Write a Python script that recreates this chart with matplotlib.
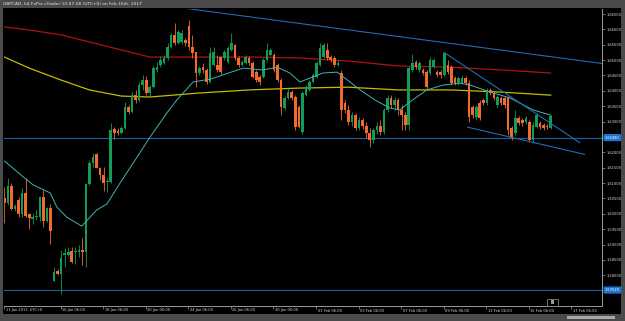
import matplotlib
matplotlib.use("Agg")
import matplotlib.pyplot as plt
from matplotlib.patches import Rectangle
from matplotlib.transforms import blended_transform_factory

W, H, DPI = 625, 321, 100

title = "GBPCAD, h4 FxPro cTrader 10:07:58 (UTC+0) on Feb 16th, 2017"

# ---- OHLC (h4 candles) ----
opens = [1.6051, 1.6035, 1.6091, 1.6016, 1.6045, 1.5999, 1.6068, 1.5999, 1.5983, 1.5989,
         1.5989, 1.6055, 1.5976, 1.6019, 1.5782, 1.5814, 1.5805, 1.5866, 1.5866, 1.5879,
         1.5876, 1.5876, 1.5882, 1.5876, 1.6097, 1.6165, 1.6195, 1.6150, 1.6126, 1.6103,
         1.6103, 1.6276, 1.6269, 1.6263, 1.6279, 1.6347, 1.6331, 1.6386, 1.6370, 1.6419,
         1.6435, 1.6393, 1.6412, 1.6468, 1.6484, 1.6490, 1.6507, 1.6543, 1.6582, 1.6556,
         1.6559, 1.6565, 1.6611, 1.6543, 1.6526, 1.6458, 1.6477, 1.6468, 1.6429, 1.6484,
         1.6484, 1.6510, 1.6507, 1.6494, 1.6533, 1.6549, 1.6507, 1.6484, 1.6490, 1.6507,
         1.6490, 1.6461, 1.6445, 1.6445, 1.6500, 1.6516, 1.6516, 1.6484, 1.6435, 1.6344,
         1.6377, 1.6396, 1.6380, 1.6347, 1.6266, 1.6386, 1.6403, 1.6429, 1.6445, 1.6484,
         1.6510, 1.6533, 1.6510, 1.6507, 1.6484, 1.6458, 1.6360, 1.6338, 1.6299, 1.6321,
         1.6279, 1.6305, 1.6286, 1.6263, 1.6240, 1.6273, 1.6286, 1.6266, 1.6338, 1.6377,
         1.6354, 1.6370, 1.6338, 1.6321, 1.6289, 1.6468, 1.6494, 1.6468, 1.6468, 1.6461,
         1.6458, 1.6477, 1.6461, 1.6461, 1.6452, 1.6484, 1.6477, 1.6442, 1.6425, 1.6425,
         1.6442, 1.6425, 1.6347, 1.6315, 1.6360, 1.6370, 1.6360, 1.6403, 1.6393, 1.6354,
         1.6377, 1.6377, 1.6377, 1.6279, 1.6263, 1.6312, 1.6305, 1.6299, 1.6299, 1.6240,
         1.6282, 1.6295, 1.6289, 1.6286, 1.6279]
highs = [1.6087, 1.6116, 1.6100, 1.6032, 1.6055, 1.6084, 1.6116, 1.6003, 1.6003, 1.6012,
         1.6058, 1.6077, 1.6022, 1.6032, 1.5827, 1.5821, 1.5882, 1.5889, 1.5892, 1.5892,
         1.5892, 1.5898, 1.5921, 1.6099, 1.6175, 1.6198, 1.6198, 1.6153, 1.6153, 1.6116,
         1.6295, 1.6282, 1.6279, 1.6286, 1.6364, 1.6354, 1.6396, 1.6403, 1.6429, 1.6452,
         1.6448, 1.6419, 1.6481, 1.6494, 1.6513, 1.6516, 1.6556, 1.6588, 1.6621, 1.6598,
         1.6598, 1.6572, 1.6630, 1.6582, 1.6526, 1.6481, 1.6490, 1.6474, 1.6543, 1.6543,
         1.6516, 1.6513, 1.6533, 1.6546, 1.6588, 1.6552, 1.6513, 1.6500, 1.6516, 1.6513,
         1.6497, 1.6468, 1.6452, 1.6507, 1.6556, 1.6539, 1.6523, 1.6490, 1.6442, 1.6383,
         1.6409, 1.6403, 1.6386, 1.6354, 1.6399, 1.6419, 1.6435, 1.6458, 1.6497, 1.6556,
         1.6556, 1.6556, 1.6516, 1.6513, 1.6500, 1.6468, 1.6370, 1.6354, 1.6331, 1.6328,
         1.6315, 1.6312, 1.6299, 1.6279, 1.6279, 1.6299, 1.6305, 1.6344, 1.6386, 1.6386,
         1.6380, 1.6377, 1.6354, 1.6331, 1.6481, 1.6520, 1.6500, 1.6497, 1.6474, 1.6468,
         1.6510, 1.6507, 1.6468, 1.6468, 1.6526, 1.6500, 1.6484, 1.6448, 1.6448, 1.6452,
         1.6448, 1.6435, 1.6354, 1.6354, 1.6370, 1.6377, 1.6409, 1.6409, 1.6399, 1.6386,
         1.6383, 1.6383, 1.6383, 1.6286, 1.6338, 1.6318, 1.6312, 1.6318, 1.6305, 1.6299,
         1.6328, 1.6302, 1.6295, 1.6292, 1.6321]
lows = [1.5970, 1.6029, 1.6012, 1.6009, 1.5989, 1.5989, 1.5989, 1.5951, 1.5967, 1.5980,
        1.5976, 1.5957, 1.5973, 1.5902, 1.5780, 1.5801, 1.5739, 1.5827, 1.5863, 1.5840,
        1.5837, 1.5860, 1.5834, 1.5827, 1.6094, 1.6153, 1.6148, 1.6110, 1.6074, 1.6071,
        1.6100, 1.6243, 1.6256, 1.6260, 1.6276, 1.6325, 1.6328, 1.6360, 1.6364, 1.6403,
        1.6386, 1.6383, 1.6409, 1.6461, 1.6477, 1.6487, 1.6500, 1.6539, 1.6549, 1.6552,
        1.6552, 1.6546, 1.6533, 1.6507, 1.6412, 1.6452, 1.6458, 1.6422, 1.6425, 1.6481,
        1.6461, 1.6455, 1.6500, 1.6490, 1.6530, 1.6500, 1.6477, 1.6481, 1.6487, 1.6484,
        1.6442, 1.6429, 1.6419, 1.6442, 1.6497, 1.6513, 1.6461, 1.6429, 1.6321, 1.6338,
        1.6373, 1.6370, 1.6273, 1.6279, 1.6260, 1.6383, 1.6399, 1.6425, 1.6442, 1.6481,
        1.6507, 1.6500, 1.6494, 1.6477, 1.6481, 1.6305, 1.6328, 1.6289, 1.6286, 1.6273,
        1.6273, 1.6276, 1.6247, 1.6217, 1.6230, 1.6260, 1.6256, 1.6260, 1.6331, 1.6344,
        1.6338, 1.6321, 1.6273, 1.6273, 1.6273, 1.6461, 1.6471, 1.6461, 1.6452, 1.6406,
        1.6452, 1.6474, 1.6445, 1.6442, 1.6448, 1.6455, 1.6419, 1.6419, 1.6419, 1.6422,
        1.6419, 1.6299, 1.6312, 1.6308, 1.6305, 1.6354, 1.6354, 1.6386, 1.6370, 1.6347,
        1.6354, 1.6344, 1.6256, 1.6240, 1.6256, 1.6289, 1.6286, 1.6292, 1.6234, 1.6230,
        1.6279, 1.6276, 1.6273, 1.6276, 1.6276]
closes = [1.6035, 1.6091, 1.6016, 1.6025, 1.5999, 1.6068, 1.5993, 1.5986, 1.5989, 1.5993,
          1.6055, 1.5976, 1.6019, 1.5944, 1.5811, 1.5805, 1.5857, 1.5873, 1.5876, 1.5843,
          1.5879, 1.5882, 1.5876, 1.6097, 1.6165, 1.6185, 1.6150, 1.6126, 1.6100, 1.6107,
          1.6273, 1.6263, 1.6263, 1.6279, 1.6347, 1.6331, 1.6386, 1.6370, 1.6419, 1.6435,
          1.6393, 1.6412, 1.6474, 1.6477, 1.6500, 1.6507, 1.6543, 1.6582, 1.6556, 1.6591,
          1.6588, 1.6556, 1.6543, 1.6523, 1.6458, 1.6474, 1.6468, 1.6429, 1.6523, 1.6526,
          1.6468, 1.6461, 1.6526, 1.6539, 1.6556, 1.6507, 1.6484, 1.6494, 1.6510, 1.6490,
          1.6445, 1.6435, 1.6429, 1.6500, 1.6533, 1.6533, 1.6468, 1.6435, 1.6347, 1.6377,
          1.6396, 1.6377, 1.6282, 1.6282, 1.6393, 1.6412, 1.6429, 1.6452, 1.6490, 1.6539,
          1.6549, 1.6507, 1.6500, 1.6484, 1.6490, 1.6338, 1.6338, 1.6299, 1.6321, 1.6279,
          1.6305, 1.6286, 1.6263, 1.6240, 1.6273, 1.6286, 1.6266, 1.6338, 1.6377, 1.6354,
          1.6370, 1.6338, 1.6321, 1.6289, 1.6474, 1.6490, 1.6477, 1.6490, 1.6458, 1.6412,
          1.6500, 1.6500, 1.6452, 1.6452, 1.6523, 1.6461, 1.6425, 1.6425, 1.6442, 1.6442,
          1.6425, 1.6315, 1.6321, 1.6347, 1.6312, 1.6360, 1.6403, 1.6393, 1.6377, 1.6380,
          1.6360, 1.6354, 1.6273, 1.6247, 1.6312, 1.6295, 1.6295, 1.6312, 1.6240, 1.6289,
          1.6321, 1.6282, 1.6279, 1.6282, 1.6318]

# ---- moving averages (candle index, price) ----
ma_slow_idx = [0, 7, 16, 24, 33, 41, 55, 69, 83, 97, 111, 126, 140, 154]
ma_slow_val = [1.6608, 1.6598, 1.6582, 1.6559, 1.6533, 1.6510, 1.6510, 1.6510, 1.6507,
               1.6497, 1.6481, 1.6477, 1.6468, 1.6458]
ma_mid_idx = [0, 7, 16, 24, 33, 41, 55, 69, 83, 97, 111, 126, 140, 154]
ma_mid_val = [1.6510, 1.6474, 1.6435, 1.6403, 1.6383, 1.6380, 1.6393, 1.6403, 1.6409,
              1.6412, 1.6403, 1.6403, 1.6396, 1.6386]
ma_fast_idx = [0, 4.4, 8.1, 12.9, 14.8, 17.6, 21.8, 26.0, 28.9, 32.6, 36.3, 41.1, 45.8,
               48.6, 53.2, 58.0, 67.3, 72.9, 76.9, 80.5, 83.3, 86.2, 89.8, 93.8, 97.4,
               100.3, 104.5, 108.7, 111.5, 114.3, 119.1, 123.7, 128.4, 131.3, 136.9,
               142.5, 149.0, 154]
ma_fast_val = [1.6172, 1.6129, 1.6094, 1.6068, 1.6022, 1.5989, 1.5960, 1.6012, 1.6032,
               1.6100, 1.6165, 1.6250, 1.6328, 1.6370, 1.6429, 1.6438, 1.6474, 1.6468,
               1.6477, 1.6458, 1.6429, 1.6442, 1.6458, 1.6461, 1.6429, 1.6403, 1.6370,
               1.6344, 1.6338, 1.6364, 1.6403, 1.6419, 1.6425, 1.6419, 1.6396, 1.6377,
               1.6338, 1.6321]

# ---- drawn objects ----
trend_lines = [((50.4, 1.66695), (168.5, 1.64890)),
               ((123.8, 1.65260), (162.3, 1.62304)),
               ((130.4, 1.62824), (163.7, 1.61930))]
hlines = [1.62480, 1.57520]

y_ticks = [1.5800 + 0.005 * k for k in range(18)]
x_tick_pos = [-0.1, 15.85, 27.85, 39.85, 51.85, 63.85, 75.85, 87.85, 99.85, 111.85,
              123.85, 135.85, 147.85, 159.85]
x_tick_lbl = ["11 Jan 2017, UTC+0", "16 Jan 06:00", "18 Jan 06:00", "20 Jan 06:00",
              "24 Jan 06:00", "26 Jan 06:00", "30 Jan 06:00", "01 Feb 06:00",
              "03 Feb 06:00", "07 Feb 06:00", "09 Feb 06:00", "13 Feb 06:00",
              "15 Feb 06:00", "17 Feb 06:00"]

BULL = '#0f9d58'
BEAR = '#f26a2e'

fig = plt.figure(figsize=(W / DPI, H / DPI), dpi=DPI)
fig.patch.set_facecolor('#4a4a4a')


def fx(px):
    return px / W


def fy(py):
    return 1 - py / H


# black panel
fig.add_artist(Rectangle((fx(3), fy(314)), (621 - 3) / W, (314 - 8) / H,
                         transform=fig.transFigure, facecolor='black', edgecolor='none',
                         zorder=0))
# scrollbar
fig.add_artist(Rectangle((fx(567), fy(319)), (615 - 567) / W, 3 / H,
                         transform=fig.transFigure, facecolor='#a8a8a8', edgecolor='none'))
fig.text(fx(3), fy(4), title, color='#e6e6e6', fontsize=3.2, va='center', ha='left')
# small "scroll to end" icon near the time axis
fig.add_artist(Rectangle((fx(547), fy(306)), 11 / W, 7 / H, transform=fig.transFigure,
                         facecolor='black', edgecolor='#9a9a9a', linewidth=0.5, zorder=5))
fig.add_artist(Rectangle((fx(551), fy(304)), 3 / W, 4 / H, transform=fig.transFigure,
                         facecolor='#9a9a9a', edgecolor='none', zorder=6))

ax = fig.add_axes([fx(4), fy(306), (602 - 4) / W, (306 - 9) / H])
ax.set_facecolor('black')
ax.set_xlim(-0.085, 168.46)
ax.set_ylim(1.57001, 1.66663)
for s in ['top', 'left']:
    ax.spines[s].set_visible(False)
for s in ['right', 'bottom']:
    ax.spines[s].set_color('#9a9a9a')
    ax.spines[s].set_linewidth(0.7)

n = len(opens)
idx = list(range(n))
cols = [BULL if c >= o else BEAR for o, c in zip(opens, closes)]
ax.vlines(idx, lows, highs, colors=cols, linewidth=0.6, zorder=3)
bottoms = [min(o, c) for o, c in zip(opens, closes)]
heights = [max(abs(c - o), 0.00025) for o, c in zip(opens, closes)]
ax.bar(idx, heights, bottom=bottoms, width=0.74, color=cols, linewidth=0, zorder=4)

ax.plot(ma_slow_idx, ma_slow_val, color='#b01212', lw=0.9, zorder=2)
ax.plot(ma_mid_idx, ma_mid_val, color='#c2bd00', lw=0.9, zorder=2)
ax.plot(ma_fast_idx, ma_fast_val, color='#3fb3b3', lw=0.7, zorder=5)

for (x0, y0), (x1, y1) in trend_lines:
    ax.plot([x0, x1], [y0, y1], color='#1f6cb4', lw=0.8, zorder=6, solid_capstyle='butt')
for h in hlines:
    ax.axhline(h, color='#1b5e9c', lw=0.8, zorder=1)

# price axis
ax.set_yticks(y_ticks)
ax.yaxis.tick_right()
ax.tick_params(axis='y', length=2, width=0.5, color='#9a9a9a', pad=1,
               labelsize=2.6, labelcolor='#d8d8d8')
ax.set_yticklabels(["%.5f" % v for v in y_ticks])

# time axis
ax.set_xticks(x_tick_pos)
ax.set_xticklabels([])
ax.tick_params(axis='x', length=2, width=0.5, color='#9a9a9a')
tb = blended_transform_factory(ax.transData, fig.transFigure)
for p, lbl in zip(x_tick_pos, x_tick_lbl):
    ax.text(p + 0.45, fy(310.5), lbl, transform=tb, fontsize=2.6, color='#d8d8d8',
            ha='left', va='center', clip_on=False)

# highlighted price labels
tp = blended_transform_factory(fig.transFigure, ax.transData)
for h in hlines:
    ax.text(fx(605), h, "%.5f" % h, transform=tp, fontsize=2.6, color='white',
            ha='left', va='center', clip_on=False, zorder=10,
            bbox=dict(boxstyle='round,pad=0.25,rounding_size=0.2', fc='#1a74d0', ec='#1a74d0'))

fig.savefig('out.png', dpi=DPI, facecolor=fig.get_facecolor())
